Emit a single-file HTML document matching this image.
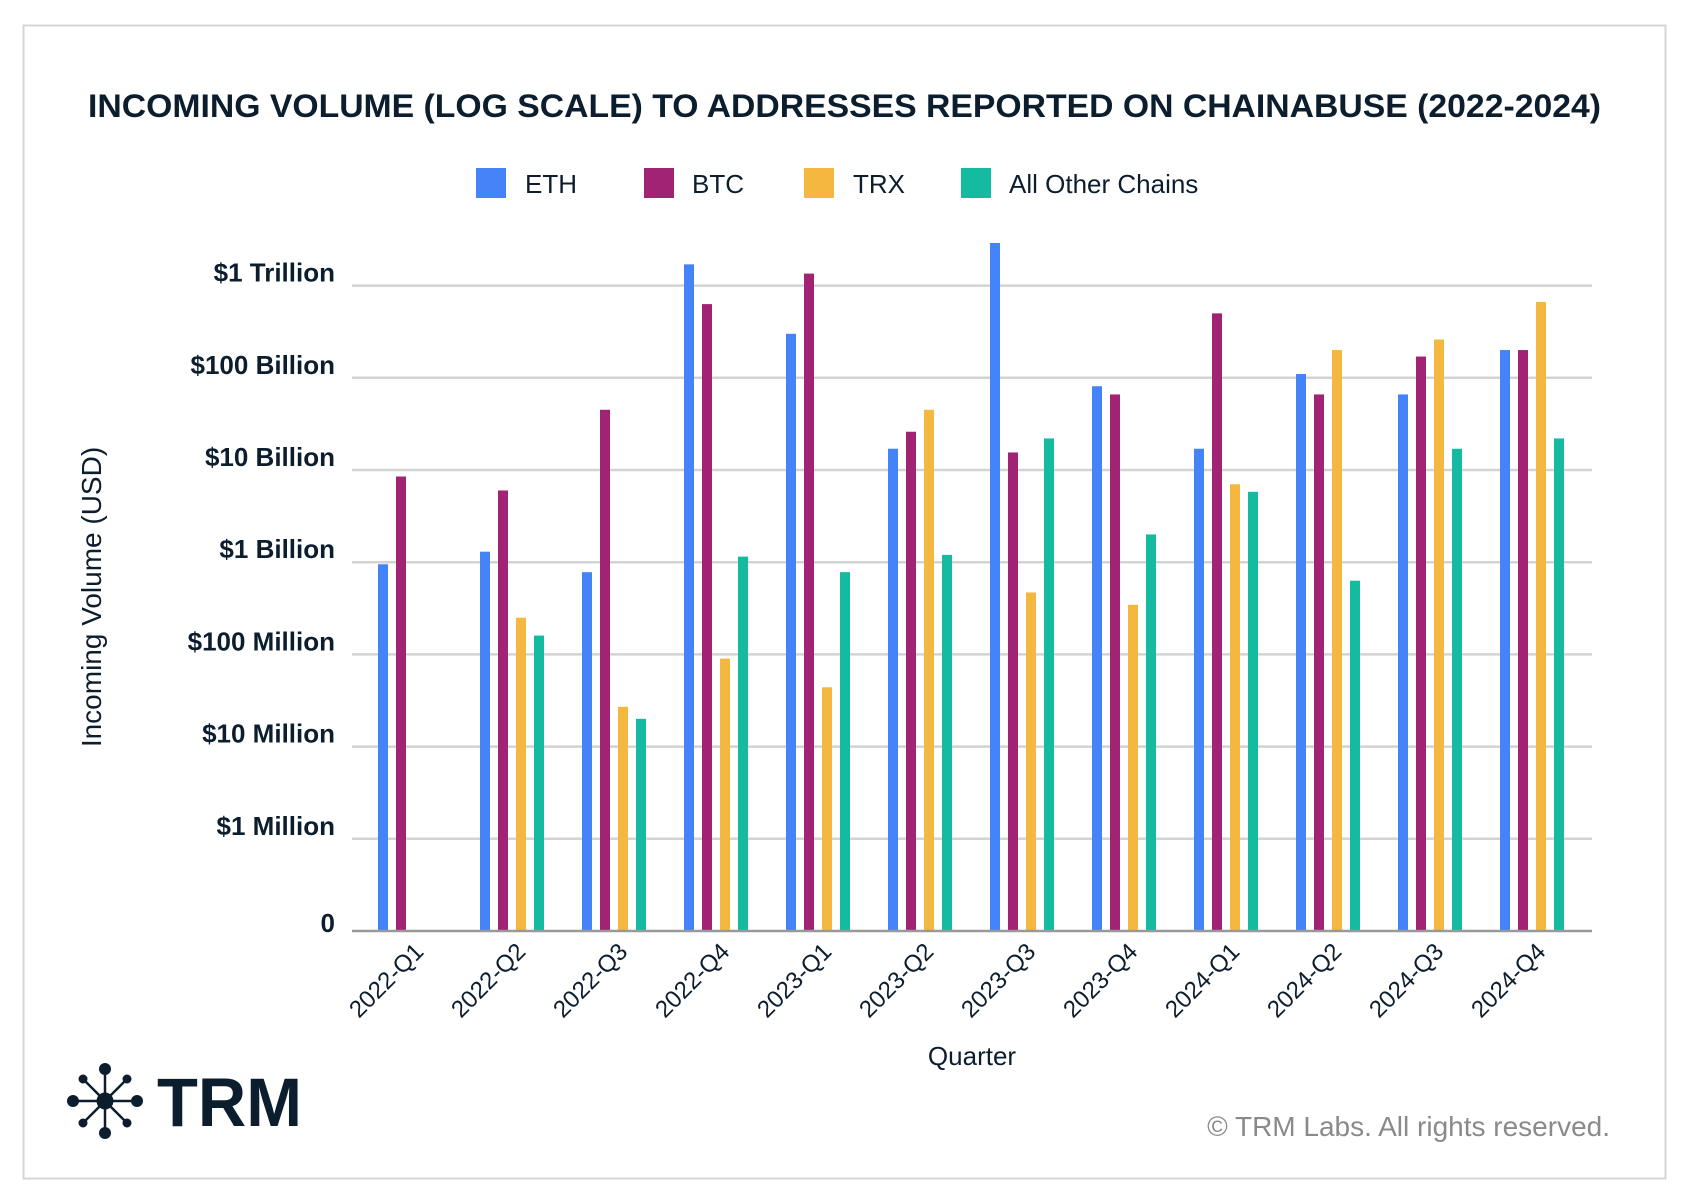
<!DOCTYPE html>
<html><head><meta charset="utf-8"><style>
html,body{margin:0;padding:0;background:#fff;}
svg{display:block;font-family:"Liberation Sans",sans-serif;}
</style></head><body>
<svg id="chart" width="1692" height="1200" viewBox="0 0 1692 1200">
<rect x="23.5" y="25.5" width="1642" height="1153" fill="#fff" stroke="#d6d6d6" stroke-width="2"/>
<text x="88" y="117" font-size="32" font-weight="bold" fill="#0c1e2e" textLength="1513" lengthAdjust="spacingAndGlyphs">INCOMING VOLUME (LOG SCALE) TO ADDRESSES REPORTED ON CHAINABUSE (2022-2024)</text>
<g id="legend"></g>
<g id="grid"></g>
<g id="bars"></g>
<g id="xlabels"></g>
<text transform="translate(101,597) rotate(-90)" text-anchor="middle" font-size="28" fill="#0c1e2e">Incoming Volume (USD)</text>
<text x="972" y="1065" text-anchor="middle" font-size="26" fill="#0c1e2e">Quarter</text>
<g fill="#0c1e2e" stroke="#0c1e2e">
<g stroke-width="2.5">
<line x1="71" y1="1101" x2="139" y2="1101"/><line x1="105" y1="1067" x2="105" y2="1135"/>
<line x1="83" y1="1079" x2="127" y2="1123"/><line x1="127" y1="1079" x2="83" y2="1123"/>
</g>
<circle cx="105" cy="1101" r="8"/>
<circle cx="73" cy="1101" r="5.5"/><circle cx="137" cy="1101" r="5.5"/><circle cx="105" cy="1069" r="5.5"/><circle cx="105" cy="1133" r="5.5"/>
<circle cx="83" cy="1079" r="4"/><circle cx="127" cy="1079" r="4"/><circle cx="83" cy="1123" r="4"/><circle cx="127" cy="1123" r="4"/>
<text x="157" y="1126" font-size="69" font-weight="bold" stroke="none" textLength="145" lengthAdjust="spacingAndGlyphs">TRM</text>
</g>
<text x="1610" y="1136" text-anchor="end" font-size="28" fill="#8a8a8a">© TRM Labs. All rights reserved.</text>
</svg>
<script>
const quarters = ["2022-Q1","2022-Q2","2022-Q3","2022-Q4","2023-Q1","2023-Q2","2023-Q3","2023-Q4","2024-Q1","2024-Q2","2024-Q3","2024-Q4"];
const seriesNames = ["ETH","BTC","TRX","All Other Chains"];
const ethValues = [0.95e9,1.3e9,0.78e9,1.7e12,300e9,17e9,2.9e12,81e9,17e9,110e9,66e9,200e9];
const btcValues = [8.5e9,6e9,45e9,630e9,1.35e12,26e9,15.5e9,66e9,500e9,66e9,170e9,200e9];
const trxValues = [0,250e6,27e6,90e6,44e6,45e9,470e6,345e6,7e9,200e9,260e9,665e9];
const otherValues = [0,160e6,20e6,1.15e9,0.78e9,1.2e9,22e9,2e9,5.8e9,630e6,17e9,22e9];
const tickValues = [1e5,1e6,1e7,1e8,1e9,1e10,1e11,1e12];
const tickLabels = ["0","$1 Million","$10 Million","$100 Million","$1 Billion","$10 Billion","$100 Billion","$1 Trillion"];
const colors = ["#4483f8","#a02374","#f4b740","#14bba0"];

const NS="http://www.w3.org/2000/svg";
const plotL=352, plotR=1592, baseY=931, decade=92.2;
function yScale(v){ if(!v||v<=1e5) return baseY; return baseY-(Math.log10(v)-5)*decade; }
function groupX(i){ return 378+i*102; }
function mk(tag,attrs,parent){const e=document.createElementNS(NS,tag);for(const k in attrs)e.setAttribute(k,attrs[k]);parent.appendChild(e);return e;}

const grid=document.getElementById('grid');
tickValues.forEach((t,i)=>{
  const y=yScale(t);
  if(i>0){
    const l=mk('line',{x1:plotL,x2:plotR,y1:y,y2:y,stroke:'#d3d3d3','stroke-width':2.5},grid);
    
    
  }
  const tx=mk('text',{x:335,y:y-(i===0?-1:4),'text-anchor':'end','font-size':26,'font-weight':'bold',fill:'#0c1e2e'},grid);
  tx.textContent=tickLabels[i];
  
  
});

const bars=document.getElementById('bars');
const all=[ethValues,btcValues,trxValues,otherValues];
quarters.forEach((q,i)=>{
  all.forEach((arr,s)=>{
    const v=arr[i]; if(!v) return;
    const y=yScale(v);
    const r=mk('rect',{x:groupX(i)+s*18,y:y,width:10,height:baseY-y,fill:colors[s]},bars);
    
    
  });
});
const axis=mk('line',{x1:plotL,x2:plotR,y1:baseY,y2:baseY,stroke:'#999','stroke-width':2.5},bars);



const xl=document.getElementById('xlabels');
quarters.forEach((q,i)=>{
  const cx=groupX(i)+47, cy=953;
  const t=mk('text',{transform:`translate(${cx},${cy}) rotate(-45)`,'text-anchor':'end','font-size':24,fill:'#0c1e2e'},xl);
  t.textContent=q;
  
  
});

const lg=document.getElementById('legend');
const legX=[476,644,804,961], legTx=[525,692,853,1009];
seriesNames.forEach((n,i)=>{
  const g=mk('g',{},lg);
  
  
  mk('rect',{x:legX[i],y:168,width:30,height:30,fill:colors[i]},g);
  const t=mk('text',{x:legTx[i],y:193,'font-size':26,fill:'#0c1e2e'},g);
  t.textContent=n;
});
</script>
</body></html>
